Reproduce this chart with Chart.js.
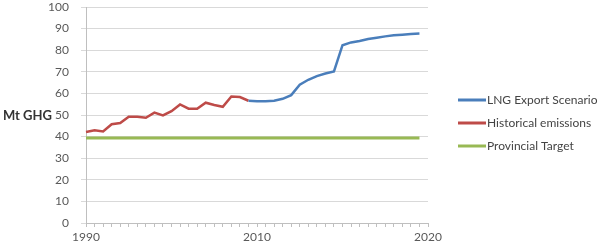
<!DOCTYPE html>
<html>
<head>
<meta charset="utf-8">
<script src="https://cdn.jsdelivr.net/npm/chart.js@4"></script>
<style>
  html, body { margin: 0; padding: 0; background: #fff; }
  #wrap { width: 600px; height: 246px; }
</style>
</head>
<body>
<div id="wrap"><canvas id="ghgChart"></canvas></div>
<script>
// category labels (only a few shown, as in the original)
var years = ['1990', '', '', '', '', '', '', '', '', '', '', '', '', '', '', '', '', '', '', '', '2010', '', '', '', '', '', '', '', '', '', '', '', '', '', '', '', '', '', '', '', '2020'];

var lngExport = [null, null, null, null, null, null, null, null, null, null, null, null, null, null, null, null, null, null, null,
  56.6, 56.4, 56.4, 56.6, 57.5, 59.2, 64, 66.3, 68, 69.2, 70.2, 82.3, 83.6, 84.3, 85.2, 85.8, 86.4, 86.9, 87.2, 87.5, 87.7, null];

var historical = [42.1, 42.9, 42.4, 45.7, 46.3, 49.2, 49.2, 48.7, 51.1, 49.8, 51.8, 54.9, 52.9, 52.9, 55.7, 54.6, 53.8, 58.6, 58.3, 56.6,
  null, null, null, null, null, null, null, null, null, null, null, null, null, null, null, null, null, null, null, null, null];

var target = [39.4, 39.4, 39.4, 39.4, 39.4, 39.4, 39.4, 39.4, 39.4, 39.4, 39.4, 39.4, 39.4, 39.4, 39.4, 39.4, 39.4, 39.4, 39.4, 39.4,
  39.4, 39.4, 39.4, 39.4, 39.4, 39.4, 39.4, 39.4, 39.4, 39.4, 39.4, 39.4, 39.4, 39.4, 39.4, 39.4, 39.4, 39.4, 39.4, 39.4, null];

var yTicks = [0, 10, 20, 30, 40, 50, 60, 70, 80, 90, 100];

var FONT = 'Lato, "Open Sans", sans-serif';

// left-side "Mt GHG" label + right-side legend
var extras = {
  id: 'extras',
  afterDraw: function (chart) {
    var ctx = chart.ctx;
    var y = chart.scales.y;
    ctx.save();
    ctx.fillStyle = '#333';
    ctx.font = 'bold 13px ' + FONT;
    ctx.textAlign = 'left';
    ctx.textBaseline = 'middle';
    ctx.fillText('Mt GHG', 3, y.getPixelForValue(50) + 1);

    ctx.font = '12px ' + FONT;
    ctx.fillStyle = '#444';
    var startY = 100;
    chart.data.datasets.forEach(function (ds, i) {
      var ly = startY + i * 23;
      ctx.strokeStyle = ds.borderColor;
      ctx.lineWidth = 3;
      ctx.beginPath();
      ctx.moveTo(458, ly);
      ctx.lineTo(486, ly);
      ctx.stroke();
      ctx.fillText(ds.label, 487, ly);
    });
    ctx.restore();
  }
};

var ctx = document.getElementById('ghgChart').getContext('2d');
var ghgChart = new Chart(ctx, {
  type: 'line',
  data: {
    labels: years,
    datasets: [{
      label: 'LNG Export Scenario',
      data: lngExport,
      borderColor: '#4A7EBB',
      borderWidth: 2.5
    }, {
      label: 'Historical emissions',
      data: historical,
      borderColor: '#BE4B48',
      borderWidth: 2.5
    }, {
      label: 'Provincial Target',
      data: target,
      borderColor: '#98B954',
      borderWidth: 3
    }]
  },
  options: {
    responsive: true,
    maintainAspectRatio: false,
    animation: false,
    layout: {
      padding: { top: 0, right: 172, bottom: 0, left: 0 }
    },
    elements: {
      point: { radius: 0 },
      line: { tension: 0 }
    },
    plugins: {
      legend: { display: false },
      tooltip: { enabled: false }
    },
    scales: {
      x: {
        offset: false,
        afterFit: function (scale) { scale.height = 23; },
        grid: {
          drawOnChartArea: false,
          drawTicks: true,
          tickLength: 4,
          color: '#bfbfbf'
        },
        border: { color: '#bfbfbf' },
        ticks: {
          autoSkip: false,
          maxRotation: 0,
          padding: 3,
          color: '#595959',
          font: { family: FONT, size: 12 }
        }
      },
      y: {
        min: 0,
        max: 100,
        afterFit: function (scale) {
          scale.width = 86;
          scale.paddingTop = 7;
          scale.paddingBottom = 7;
        },
        afterBuildTicks: function (scale) {
          scale.ticks = yTicks.map(function (v) { return { value: v }; });
        },
        grid: {
          color: '#d9d9d9',
          tickLength: 5
        },
        border: { color: '#bfbfbf' },
        ticks: {
          padding: 12,
          color: '#595959',
          font: { family: FONT, size: 12 }
        }
      }
    }
  },
  plugins: [extras]
});
</script>
</body>
</html>
